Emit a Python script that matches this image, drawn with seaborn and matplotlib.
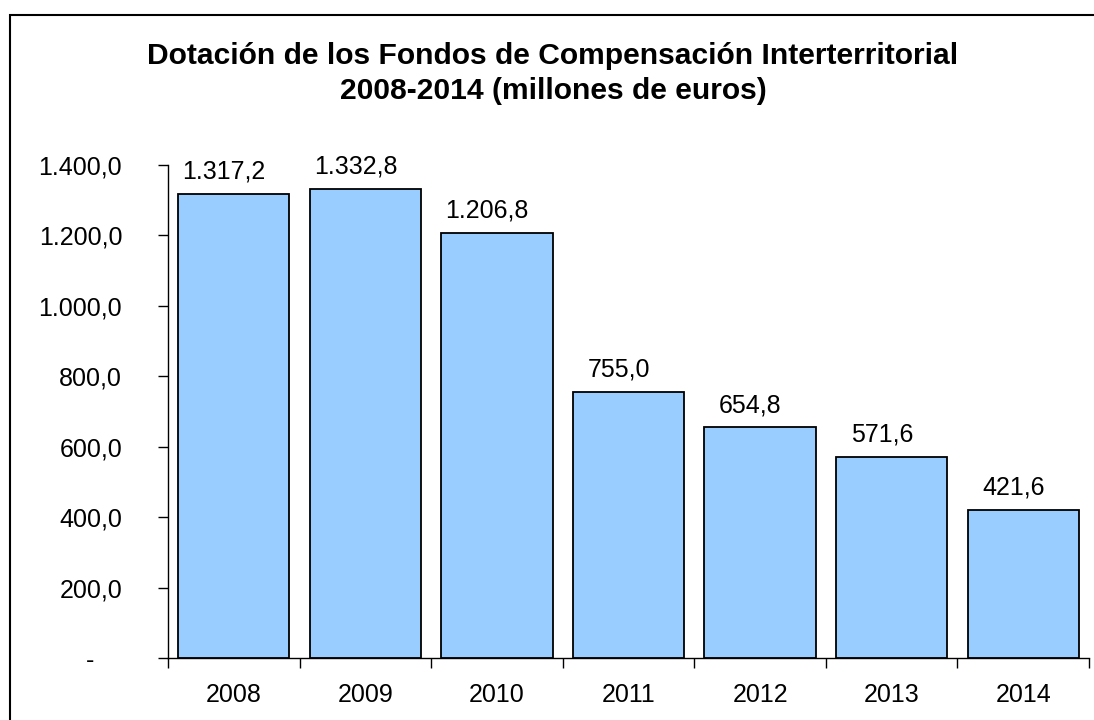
import matplotlib
matplotlib.use("Agg")
import matplotlib.pyplot as plt
import seaborn as sns
import pandas as pd
from matplotlib.ticker import FuncFormatter, FixedLocator
from matplotlib.patches import Rectangle

years = ["2008", "2009", "2010", "2011", "2012", "2013", "2014"]
values = [1317.2, 1332.8, 1206.8, 755.0, 654.8, 571.6, 421.6]
title = "Dotación de los Fondos de Compensación Interterritorial\n2008-2014 (millones de euros)"

sns.set_theme(style="white")
plt.rcParams["font.family"] = ["Liberation Sans", "DejaVu Sans"]
plt.rcParams["text.color"] = "black"
plt.rcParams["xtick.color"] = "black"
plt.rcParams["ytick.color"] = "black"
plt.rcParams["axes.labelcolor"] = "black"

df = pd.DataFrame({"year": years, "value": values})

fig = plt.figure(figsize=(10.94, 7.2), dpi=100)
ax = fig.add_axes([168/1094, 1-658/720, (1089-168)/1094, (658-165)/720])

sns.barplot(data=df, x="year", y="value", ax=ax, color="#99CCFF",
            edgecolor="black", linewidth=1.3, width=0.845, saturation=1)

def fmt_es(v, dec=1):
    s = f"{v:,.{dec}f}"
    return s.replace(",", "X").replace(".", ",").replace("X", ".")

for i, v in enumerate(values):
    ax.annotate(fmt_es(v), (i, v), xytext=(-7, 11), textcoords="offset points",
                ha="center", va="baseline", fontsize=18, color="black")

ax.set_ylim(0, 1400)
ax.set_xlim(-0.5, 6.5)
ax.set_yticks(range(0, 1401, 200))
ax.yaxis.set_major_formatter(FuncFormatter(lambda v, p: "-    " if v == 0 else fmt_es(v)))
ax.tick_params(axis="y", direction="out", length=7, width=1, color="black",
               labelsize=18, labelcolor="black", pad=26, left=True)
ax.xaxis.set_minor_locator(FixedLocator([i - 0.5 for i in range(8)]))
ax.tick_params(axis="x", which="major", length=0, labelsize=18, labelcolor="black", pad=18)
ax.tick_params(axis="x", which="minor", direction="out", length=7, width=1,
               color="black", bottom=True)
ax.set_xlabel("")
ax.set_ylabel("")
for s in ["top", "right"]:
    ax.spines[s].set_visible(False)
for s in ["left", "bottom"]:
    ax.spines[s].set_color("black")
    ax.spines[s].set_linewidth(1)

fig.text(553/1094, 1-73.5/720, title, ha="center", va="center", color="black",
         fontsize=21.6, fontweight="bold", linespacing=1.33, multialignment="center")

fig.patches.append(Rectangle((10/1094, -0.05), 1.2, 1-15/720+0.05,
                             transform=fig.transFigure, fill=False,
                             edgecolor="black", linewidth=1.5))

fig.savefig("out.png", dpi=100)
